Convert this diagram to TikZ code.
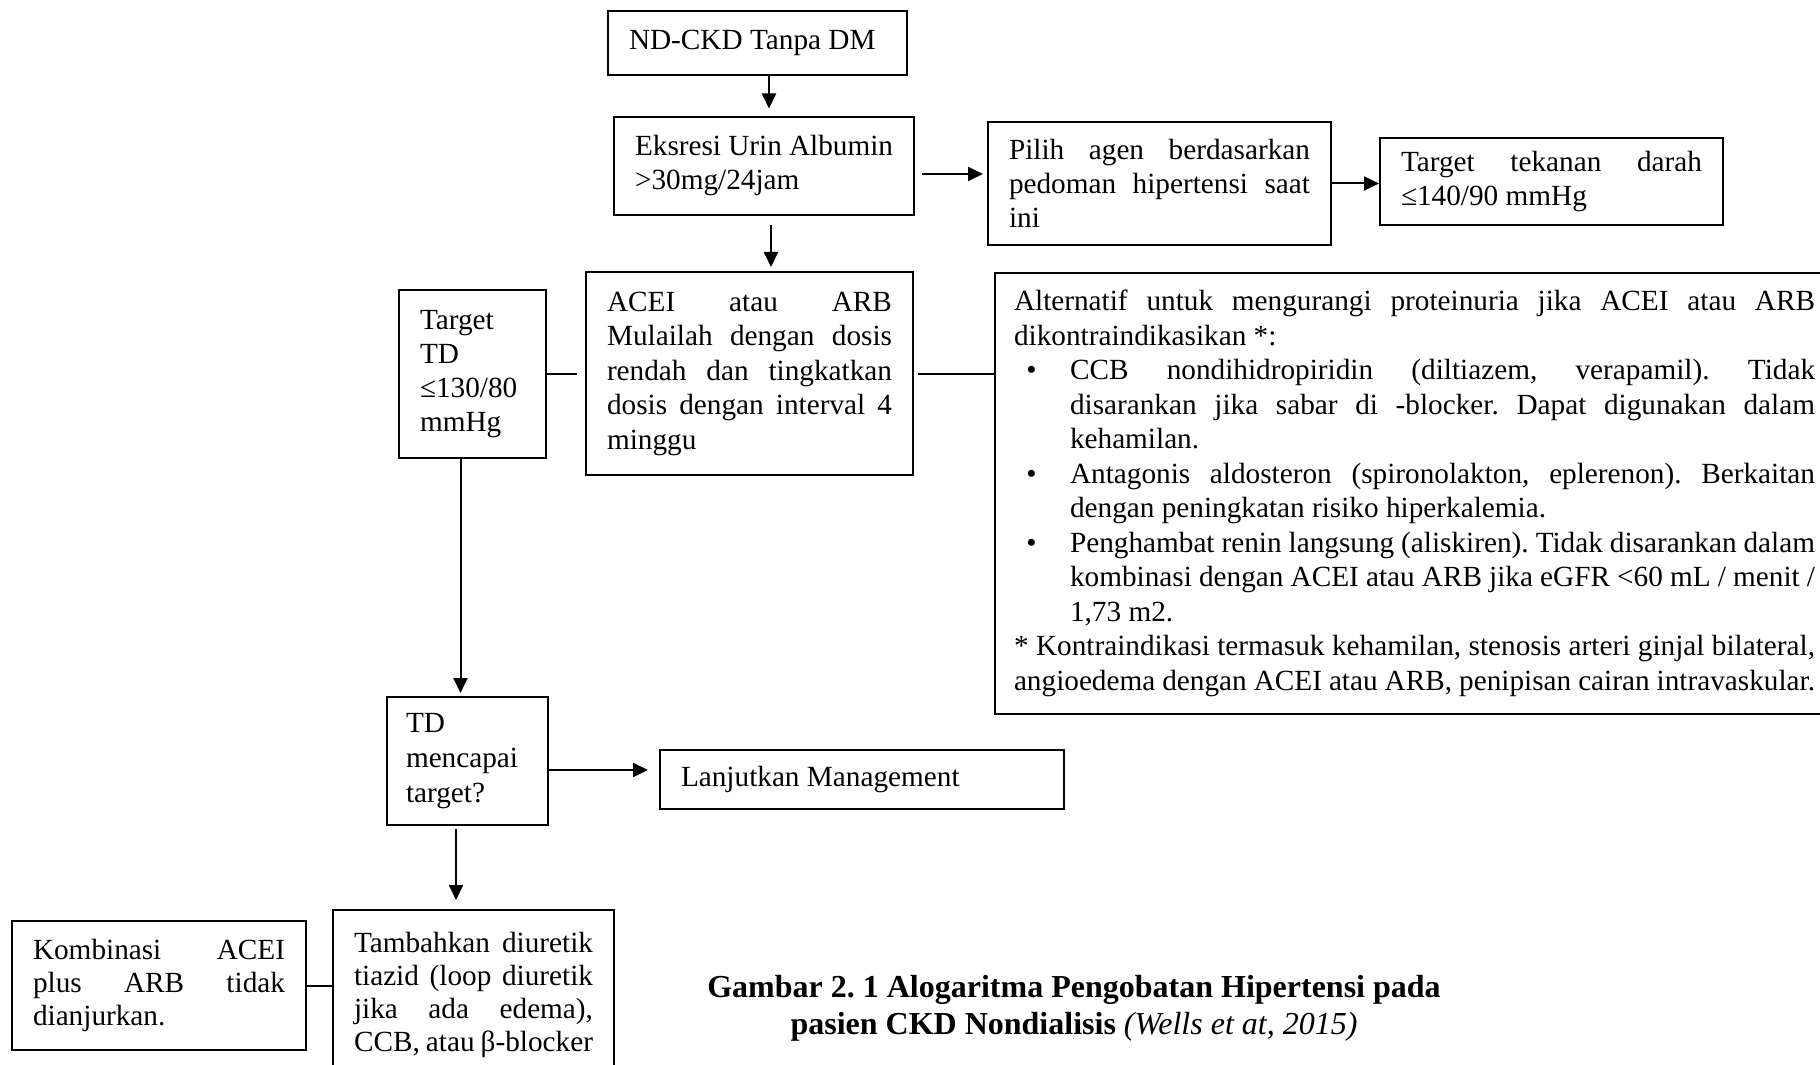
\documentclass[tikz,border=0pt]{standalone}
\usepackage{fontspec}
\setmainfont{Liberation Serif}
\usetikzlibrary{arrows.meta}
\setlength{\parindent}{0pt}
\frenchspacing
\hyphenpenalty=10000
\exhyphenpenalty=10000
\hbadness=10000
\hfuzz=3pt

\begin{document}
\begin{tikzpicture}[x=0.4pt, y=-0.4pt]
            \tikzstyle{block} = [rectangle, draw, line width=0.8pt, anchor=north west, inner xsep=8.4pt, inner ysep=0pt, align=justify, font=\fontsize{11.7pt}{13.6pt}\selectfont]
            \tikzstyle{arrow} = [line width=0.8pt, -{Triangle[length=6pt,width=5.6pt]}]
            \tikzstyle{link} = [line width=0.8pt]

            \clip (0,0) rectangle (1820,1065);

            \node [block, text width=102.8pt, minimum height=25.6pt] (ndckd) at (607,10) {ND-CKD Tanpa DM};
            \node [block, text width=103.2pt, minimum height=39.2pt] (urin) at (613,116) {Eksresi Urin Albumin\\ >30mg/24jam};
            \node [block, text width=120.4pt, minimum height=49.2pt] (pilih) at (987,121) {Pilih agen berdasarkan\linebreak pedoman hipertensi saat\linebreak ini};
            \node [block, text width=120.4pt, minimum height=34.8pt] (target140) at (1379,137) {Target tekanan darah\linebreak ≤140/90 mmHg};
            \node [block, text width=114pt, minimum height=81.2pt, font=\fontsize{11.7pt}{13.8pt}\selectfont] (acei) at (585,271) {ACEI atau ARB\linebreak Mulailah dengan dosis\linebreak rendah dan tingkatkan\linebreak dosis dengan interval 4\linebreak minggu};
            \node [block, text width=42pt, minimum height=67.2pt] (target130) at (398,289) {Target\\ TD\\ ≤130/80\\ mmHg};
            \node [block, inner xsep=7.6pt, text width=320.4pt, minimum height=176.4pt, font=\fontsize{11.7pt}{13.8pt}\selectfont] (alternatif) at (994,272) {Alternatif untuk mengurangi proteinuria jika ACEI atau ARB\linebreak dikontraindikasikan *:
                \begin{list}{\textbullet}{\setlength{\leftmargin}{22.4pt}\setlength{\labelwidth}{9pt}\setlength{\labelsep}{13.4pt}\setlength{\topsep}{0pt}\setlength{\partopsep}{0pt}\setlength{\itemsep}{0pt}\setlength{\parsep}{0pt}}
                \item CCB nondihidropiridin (diltiazem, verapamil). Tidak\linebreak disarankan jika sabar di -blocker. Dapat digunakan dalam\linebreak kehamilan.
                \item Antagonis aldosteron (spironolakton, eplerenon). Berkaitan\linebreak dengan peningkatan risiko hiperkalemia.
                \item Penghambat renin langsung (aliskiren). Tidak disarankan dalam\linebreak kombinasi dengan ACEI atau ARB jika eGFR <60 mL / menit /\linebreak 1,73 m2.
                \end{list}
                * Kontraindikasi termasuk kehamilan, stenosis arteri ginjal bilateral,\linebreak angioedema dengan ACEI atau ARB, penipisan cairan intravaskular.};
            \node [block, inner xsep=7.6pt, text width=49.2pt, minimum height=51.2pt, font=\fontsize{11.7pt}{14pt}\selectfont] (capai) at (386,696) {TD\\ mencapai\\ target?};
            \node [block, text width=144.8pt, minimum height=23.6pt] (lanjut) at (659,749) {Lanjutkan Management};
            \node [block, text width=95.6pt, minimum height=68pt, font=\fontsize{11.7pt}{13.2pt}\selectfont] (tambah) at (332,909) {Tambahkan diuretik\linebreak tiazid (loop diuretik\linebreak jika ada edema),\linebreak CCB, atau β-blocker};
            \node [block, text width=100.8pt, minimum height=51.6pt, font=\fontsize{11.7pt}{13.2pt}\selectfont] (kombinasi) at (11,920) {Kombinasi ACEI\linebreak plus ARB tidak\linebreak dianjurkan.};

            \node [align=center, font=\fontsize{12.8pt}{14.8pt}\selectfont] (caption) at (1074,1008) {\textbf{Gambar 2. 1 Alogaritma Pengobatan Hipertensi pada}\\ \textbf{pasien CKD Nondialisis} \textit{(Wells et at, 2015)}};

            \draw [arrow, shorten >=3pt] ([xshift=4.6pt]ndckd.south) -- ([xshift=4.6pt]ndckd.south |- urin.north);
            \draw [arrow, shorten <=2.8pt, shorten >=1.6pt] ([yshift=-3.2pt]urin.east) -- ([yshift=-3.2pt]urin.east -| pilih.west);
            \draw [arrow] (pilih.east) -- (pilih.east -| target140.west);
            \draw [arrow, shorten <=3.6pt, shorten >=1.6pt] ([xshift=2.8pt]urin.south) -- ([xshift=2.8pt]urin.south |- acei.north);
            \draw [link, shorten >=3.2pt] (target130.east) -- (target130.east -| acei.west);
            \draw [link, shorten <=1.6pt] (acei.east) -- (acei.east -| alternatif.west);
            \draw [arrow, shorten >=1.2pt] ([xshift=-4.8pt]target130.south) -- ([xshift=-4.8pt]target130.south |- capai.north);
            \draw [arrow, shorten >=4.4pt] ([yshift=-3.6pt]capai.east) -- ([yshift=-3.6pt]capai.east -| lanjut.west);
            \draw [arrow, shorten <=1.2pt, shorten >=3.6pt] ([xshift=-4.6pt]capai.south) -- ([xshift=-4.6pt]capai.south |- tambah.north);
            \draw [link] (kombinasi.east) -- (kombinasi.east -| tambah.west);
        \end{tikzpicture}
\end{document}
